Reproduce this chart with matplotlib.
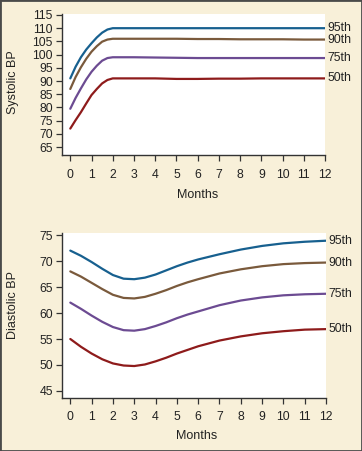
import matplotlib

matplotlib.use("Agg")
from matplotlib import pyplot as plt
from matplotlib.patches import Rectangle

plt.rcParams["font.family"] = ["Liberation Sans", "DejaVu Sans"]

percentiles = ["95th", "90th", "75th", "50th"]
colors = ["#17608f", "#7a5a3c", "#6c4b92", "#8e1b1b"]

sys_months = [0, 0.25, 0.5, 0.75, 1, 1.25, 1.5, 1.75, 2, 3, 4, 5, 6, 7, 8, 9, 10, 11, 12]
sys_95 = [91, 95.4, 99.0, 101.9, 104.3, 106.5, 108.3, 109.5, 110, 110, 110, 110, 110, 110, 110, 110, 110, 110, 110]
sys_90 = [87, 91.5, 95.2, 98.4, 101.1, 103.2, 104.9, 105.7, 106, 106, 106, 106, 105.9, 105.9, 105.8, 105.8, 105.8, 105.7, 105.7]
sys_75 = [79.5, 83.6, 87.2, 90.6, 93.5, 95.8, 97.7, 98.7, 99, 99, 98.9, 98.8, 98.7, 98.7, 98.7, 98.7, 98.7, 98.7, 98.7]
sys_50 = [72, 75.2, 78.2, 81.5, 84.7, 87.0, 89.1, 90.4, 91, 91, 91, 90.8, 90.8, 90.9, 90.9, 91, 91, 91, 91]

dia_months = [0, 0.5, 1, 1.5, 2, 2.5, 3, 3.5, 4, 4.5, 5, 5.5, 6, 7, 8, 9, 10, 11, 12]
dia_95 = [72, 71.0, 69.8, 68.5, 67.3, 66.6, 66.5, 66.8, 67.4, 68.2, 69.0, 69.7, 70.3, 71.3, 72.2, 72.9, 73.4, 73.7, 73.9]
dia_90 = [68, 67.0, 65.8, 64.6, 63.5, 62.9, 62.8, 63.1, 63.7, 64.4, 65.2, 65.9, 66.5, 67.6, 68.4, 69.0, 69.4, 69.6, 69.7]
dia_75 = [62, 60.8, 59.5, 58.3, 57.3, 56.7, 56.6, 56.9, 57.5, 58.2, 59.0, 59.7, 60.3, 61.5, 62.4, 63.0, 63.4, 63.6, 63.7]
dia_50 = [55, 53.5, 52.2, 51.1, 50.3, 49.9, 49.8, 50.1, 50.7, 51.4, 52.2, 52.9, 53.6, 54.7, 55.5, 56.1, 56.5, 56.8, 56.9]

month_ticks = list(range(0, 13))
sys_ticks = list(range(65, 116, 5))
dia_ticks = list(range(45, 76, 5))

bg = "#f8f0d9"
ink = "#222222"
tick_size = 8.8
label_size = 9.0

fig = plt.figure(figsize=(3.62, 4.51), dpi=100)
fig.patch.set_facecolor(bg)

ax_top = fig.add_axes([0.1713, 0.6563, 0.7265, 0.3127])
ax_bot = fig.add_axes([0.1713, 0.1169, 0.7293, 0.3671])


def draw_panel(ax, months, series, yticks, ylim, tick_pad):
    for values, color, label in zip(series, colors, percentiles):
        ax.plot(months, values, color=color, linewidth=1.6, solid_capstyle="round")
        ax.annotate(
            label,
            xy=(months[-1], values[-1]),
            xytext=(1.5, 0),
            textcoords="offset points",
            ha="left",
            va="center",
            fontsize=tick_size,
            color=ink,
            annotation_clip=False,
        )
    ax.set_xlim(-0.39, 12)
    ax.set_ylim(*ylim)
    ax.set_xticks(month_ticks)
    ax.set_yticks(yticks)
    ax.set_facecolor("white")
    for side in ("top", "right"):
        ax.spines[side].set_visible(False)
    for side in ("left", "bottom"):
        ax.spines[side].set_color("#333333")
        ax.spines[side].set_linewidth(1.0)
    ax.tick_params(axis="both", direction="out", length=4, width=0.9, color="#333333",
                   labelsize=tick_size, labelcolor=ink)
    ax.tick_params(axis="x", pad=tick_pad)
    ax.tick_params(axis="y", pad=2.5)


draw_panel(ax_top, sys_months, [sys_95, sys_90, sys_75, sys_50], sys_ticks, (62, 115.38), 6.0)
draw_panel(ax_bot, dia_months, [dia_95, dia_90, dia_75, dia_50], dia_ticks, (43.6, 75.44), 5.0)

fig.text(13 / 362, 1 - 82 / 451, "Systolic BP", rotation=90, ha="center", va="center",
         fontsize=label_size, color=ink)
fig.text(13 / 362, 1 - 305 / 451, "Diastolic BP", rotation=90, ha="center", va="center",
         fontsize=label_size, color=ink)
fig.text(198 / 362, 1 - 195 / 451, "Months", ha="center", va="center", fontsize=label_size, color=ink)
fig.text(197 / 362, 1 - 436 / 451, "Months", ha="center", va="center", fontsize=label_size, color=ink)

fig.patches.append(Rectangle((0, 0), 1, 1, transform=fig.transFigure, fill=False,
                             edgecolor="#4a4a4a", linewidth=2.0))

fig.savefig("out.png", dpi=100, facecolor=bg)
